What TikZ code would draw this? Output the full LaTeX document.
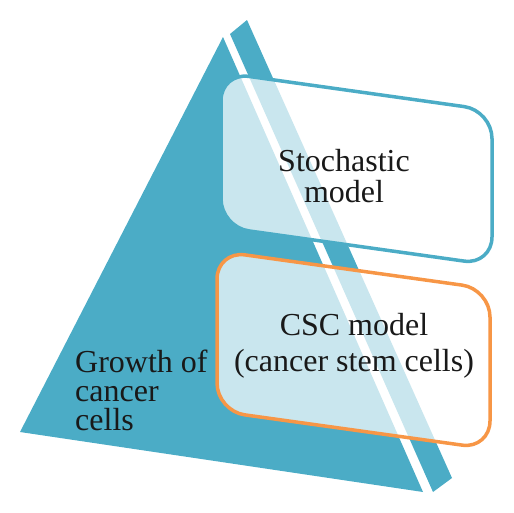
\documentclass[tikz,border=0pt]{standalone}
\usepackage{fontspec}
\setmainfont{Liberation Serif}
\usepackage{tikz}
\usepackage{xcolor}
\definecolor{aqua}{HTML}{4BACC6}
\definecolor{tangerine}{HTML}{F79646}

\tikzset{
  modelbox/.style={line width=3.5pt, fill=white, fill opacity=0.7, rounded corners=28pt},
  bigtext/.style={inner sep=0pt, align=center, text=black!90}
}

\begin{document}
\begin{tikzpicture}[x=1pt,y=-1pt]
    \useasboundingbox (0,0) rectangle (514,512);

    % the pyramid, cut in two
    \fill[aqua] (223,37) -- (20,432) -- (423,492) -- cycle;
    \fill[aqua] (230,34) -- (247,20) -- (452,478) -- (433,492) -- cycle;

    % the two model boxes
    \draw[modelbox, draw=aqua] (221,72.5) -- (492,110.5) -- (492,265) -- (221,227) -- cycle;
    \draw[modelbox, draw=tangerine] (217,251) -- (490,289) -- (490,449) -- (217,411) -- cycle;

    \node[bigtext, font=\fontsize{32}{31}\selectfont] (stoch) at (344,176.5) {Stochastic\\model};
    \node[bigtext, font=\fontsize{32}{36}\selectfont] (csc) at (354,346) {CSC model\\(cancer stem cells)};
    \node[bigtext, align=left, anchor=west, font=\fontsize{32}{29}\selectfont] (growth) at (75,390) {Growth of\\cancer\\cells};
  \end{tikzpicture}
\end{document}
